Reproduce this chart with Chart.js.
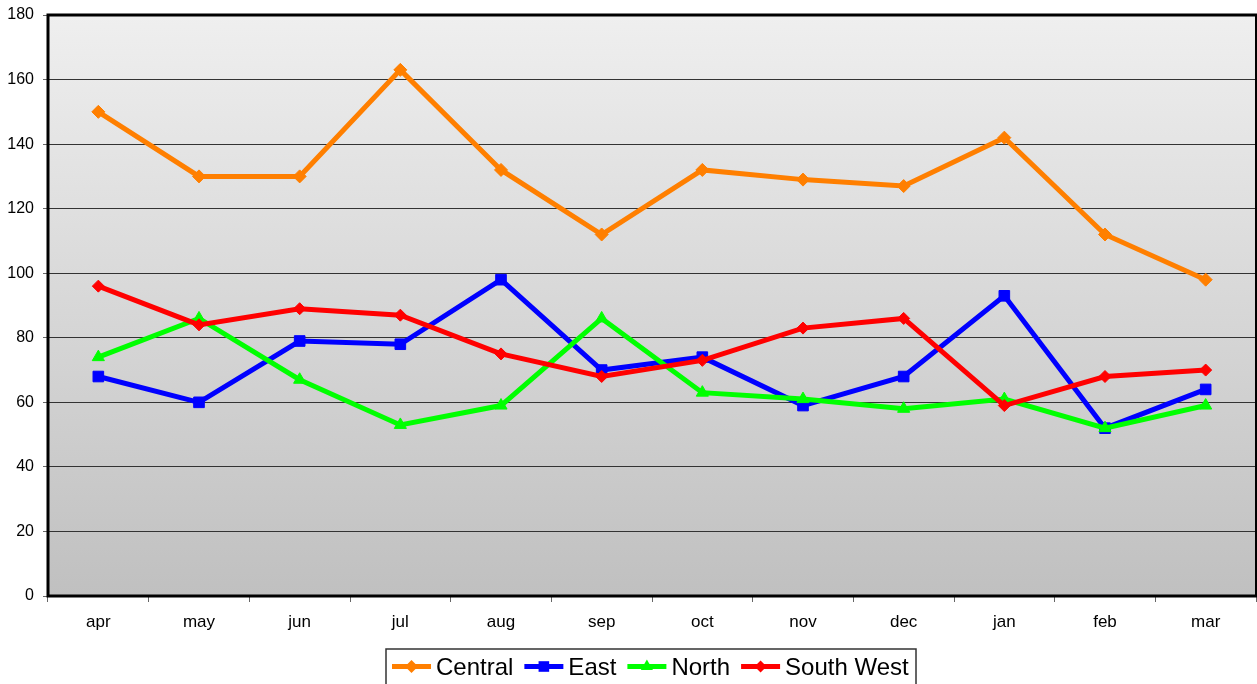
<!DOCTYPE html>
<html>
<head>
<meta charset="utf-8">
<script src="https://cdn.jsdelivr.net/npm/chart.js@4/dist/chart.umd.min.js"></script>
<style>
html,body{margin:0;padding:0;background:#fff;}
#wrap{width:1257px;height:684px;position:relative;}
</style>
</head>
<body>
<div id="wrap"><canvas id="c" width="1257" height="684"></canvas></div>
<script>
const categories = ['apr','may','jun','jul','aug','sep','oct','nov','dec','jan','feb','mar'];
const central   = [150,130,130,163,132,112,132,129,127,142,112,98];
const east      = [68,60,79,78,98,70,74,59,68,93,52,64];
const north     = [74,86,67,53,59,86,63,61,58,61,52,59];
const southWest = [96,84,89,87,75,68,73,83,86,59,68,70];
const seriesNames = ['Central','East','North','South West'];
const yTicksMin = 0, yTicksMax = 180, yTicksStep = 20;

const colors = ['#ff7f00','#0000ff','#00ff00','#ff0000'];
const styles = ['rectRot','rect','triangle','rectRot'];
const radii = [6.5,7.5,7,6];
const FONT = "'Liberation Sans', Arial, sans-serif";

const bgPlugin = {
  id:'bg',
  beforeDraw(chart){
    const {ctx, chartArea:a} = chart;
    const g = ctx.createLinearGradient(0,a.top,0,a.bottom);
    g.addColorStop(0,'#efefef');
    g.addColorStop(1,'#c0c0c0');
    ctx.save();
    ctx.fillStyle = g;
    ctx.fillRect(a.left,a.top,a.right-a.left,a.bottom-a.top);
    ctx.restore();
  },
  beforeDatasetsDraw(chart){
    const {ctx, chartArea:a} = chart;
    ctx.save();
    ctx.strokeStyle = '#000';
    ctx.lineCap = 'square';
    ctx.lineWidth = 3;
    ctx.beginPath();
    ctx.moveTo(a.left, a.top); ctx.lineTo(a.right, a.top);
    ctx.moveTo(a.left, a.top); ctx.lineTo(a.left, a.bottom);
    ctx.moveTo(a.left, a.bottom); ctx.lineTo(a.right, a.bottom);
    ctx.stroke();
    ctx.lineWidth = 2;
    ctx.beginPath();
    ctx.moveTo(a.right, a.top); ctx.lineTo(a.right, a.bottom);
    ctx.stroke();
    ctx.restore();
  }
};

function drawMarker(ctx, style, x, y, r, color){
  ctx.fillStyle = color;
  ctx.beginPath();
  if(style==='rect'){
    const s = r*Math.SQRT1_2;
    ctx.rect(x-s,y-s,2*s,2*s);
  } else if(style==='rectRot'){
    ctx.moveTo(x,y-r); ctx.lineTo(x+r,y); ctx.lineTo(x,y+r); ctx.lineTo(x-r,y); ctx.closePath();
  } else {
    const w = r*Math.sqrt(3)/2;
    ctx.moveTo(x,y-r); ctx.lineTo(x+w,y+r/2); ctx.lineTo(x-w,y+r/2); ctx.closePath();
  }
  ctx.fill();
}

const legendPlugin = {
  id:'customLegend',
  afterDraw(chart){
    const ctx = chart.ctx;
    ctx.save();
    ctx.font = '24px ' + FONT;
    const lineLen = 39, gapText = 5, gapItem = 11, padL = 6;
    const boxLeft = 386, boxTop = 649, boxRight = 916;
    ctx.strokeStyle = '#333';
    ctx.lineWidth = 1.5;
    ctx.strokeRect(boxLeft, boxTop, boxRight-boxLeft, 60);
    let x = boxLeft + padL;
    const yLine = 666.5, yText = 668;
    seriesNames.forEach((name,i)=>{
      ctx.strokeStyle = colors[i];
      ctx.lineWidth = 5;
      ctx.lineCap = 'butt';
      ctx.beginPath();
      ctx.moveTo(x, yLine); ctx.lineTo(x+lineLen, yLine);
      ctx.stroke();
      drawMarker(ctx, styles[i], x+lineLen/2, yLine, radii[i], colors[i]);
      x += lineLen + gapText;
      ctx.fillStyle = '#000';
      ctx.textBaseline = 'middle';
      ctx.textAlign = 'left';
      ctx.fillText(name, x, yText);
      x += ctx.measureText(name).width + gapItem;
    });
    ctx.restore();
  }
};

const seriesData = [central, east, north, southWest];
const datasets = seriesData.map((d,i)=>({
  label: seriesNames[i],
  data: d,
  borderColor: colors[i],
  backgroundColor: colors[i],
  borderWidth: 5,
  pointStyle: styles[i],
  pointRadius: radii[i],
  pointBorderWidth: 1,
  pointBackgroundColor: colors[i],
  pointBorderColor: colors[i],
  tension: 0,
  fill: false,
  clip: false,
  order: 4 - i
}));

new Chart(document.getElementById('c'), {
  type: 'line',
  data: { labels: categories, datasets },
  options: {
    responsive: false,
    animation: false,
    devicePixelRatio: 1,
    layout: { autoPadding: false, padding: { top: 15, right: 1, bottom: 48, left: 0 } },
    plugins: { legend: { display: false }, tooltip: { enabled: false } },
    scales: {
      x: {
        offset: true,
        grid: { drawOnChartArea: false, offset: true, tickLength: 6, color: '#666', lineWidth: 1 },
        border: { display: false },
        ticks: { color: '#000', font: { family: FONT, size: 17 }, padding: 10, maxRotation: 0, autoSkip: false },
        afterFit(s){ s.height = 40; s.paddingLeft = 0; s.paddingRight = 0; }
      },
      y: {
        min: yTicksMin, max: yTicksMax,
        grid: { color: '#333', lineWidth: 1, tickLength: 5, tickColor: '#666' },
        border: { display: false },
        ticks: { stepSize: yTicksStep, color: '#000', font: { family: FONT, size: 16 }, padding: 9 },
        afterFit(s){ s.width = 48; s.paddingTop = 0; s.paddingBottom = 0; }
      }
    }
  },
  plugins: [bgPlugin, legendPlugin]
});
</script>
</body>
</html>
